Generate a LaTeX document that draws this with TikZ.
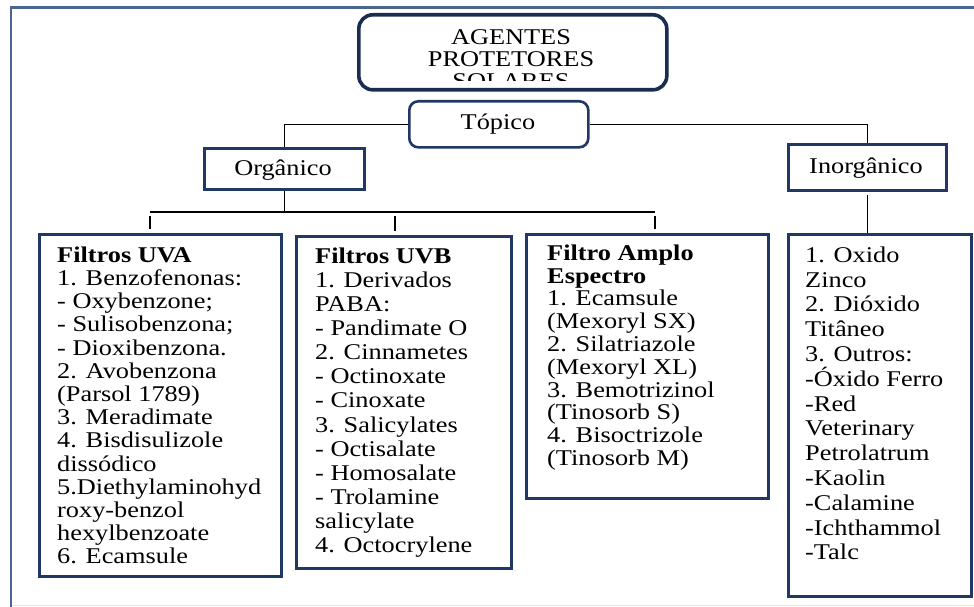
\documentclass[tikz,border=0pt]{standalone}
\usepackage{fontspec}
\setmainfont{Liberation Serif}[FakeStretch=1.17]
\definecolor{navy}{HTML}{1F3864}
\definecolor{framec}{HTML}{4A6590}
\definecolor{framelight}{HTML}{DCE6F2}
\begin{document}
\begin{tikzpicture}[x=1pt,y=-1pt,
  box/.style={draw=navy, line width=2.6pt, inner sep=0pt, anchor=north west},
  rbox/.style={box, rounded corners=9pt},
  conn/.style={draw=black, line width=1.2pt},
  txt/.style={anchor=north west, inner sep=0pt, align=left},
  lbl/.style={inner sep=0pt, anchor=base, font=\fontsize{22.5}{22}\selectfont}]
\useasboundingbox[fill=white] (0,0) rectangle (974,607);
% frame of the screenshot
\draw[framec, line width=2.6pt] (11,607) -- (11,7.5) -- (974,7.5);
\draw[framelight, line width=1.5pt] (12,605.5) -- (974,605.5);

% title
\fill[black!35, rounded corners=14pt] (360,16) rectangle (668,91);
\node[draw=navy!80!black, fill=white, line width=3.6pt, rounded corners=14pt, inner sep=0pt,
      minimum width=308pt, minimum height=75pt, anchor=north west] (title) at (357,13) {};
\begin{scope}
  \clip (360,16) rectangle (662,81);
  \node[lbl, align=center, anchor=base] (titletext) at (511,89) {AGENTES\\PROTETORES\\SOLARES};
\end{scope}

% second level
\node[rbox, minimum width=179pt, minimum height=46pt] (topico) at (408,100) {};
\node[lbl] (topicot) at (498,130) {Tópico};
\node[box, minimum width=160pt, minimum height=41pt] (organico) at (203,147) {};
\node[lbl] (organicot) at (283,175) {Orgânico};
\node[box, minimum width=158pt, minimum height=46pt] (inorganico) at (787,143) {};
\node[lbl] (inorganicot) at (866,173) {Inorgânico};

% lists
\node[box, minimum width=242pt, minimum height=342pt] (uva) at (38,233) {};
\node[txt, font=\fontsize{22.5}{23.2}\selectfont] (uvat) at (57,246.5) {\textbf{Filtros UVA}\\1. Benzofenonas:\\- Oxybenzone;\\- Sulisobenzona;\\- Dioxibenzona.\\2. Avobenzona\\(Parsol 1789)\\3. Meradimate\\4. Bisdisulizole\\dissódico\\5.Diethylaminohyd\\roxy-benzol\\hexylbenzoate\\6. Ecamsule};

\node[box, minimum width=215pt, minimum height=332pt] (uvb) at (295,235) {};
\node[txt, font=\fontsize{22.5}{24.1}\selectfont] (uvbt) at (315,247.5) {\textbf{Filtros UVB}\\1. Derivados\\PABA:\\- Pandimate O\\2. Cinnametes\\- Octinoxate\\- Cinoxate\\3. Salicylates\\- Octisalate\\- Homosalate\\- Trolamine\\salicylate\\4. Octocrylene};

\node[box, minimum width=242pt, minimum height=264pt] (amplo) at (525,233) {};
\node[txt, font=\fontsize{22.5}{22.8}\selectfont] (amplot) at (547,244.5) {\textbf{Filtro Amplo}\\\textbf{Espectro}\\1. Ecamsule\\(Mexoryl SX)\\2. Silatriazole\\(Mexoryl XL)\\3. Bemotrizinol\\(Tinosorb S)\\4. Bisoctrizole\\(Tinosorb M)};

\node[box, minimum width=183pt, minimum height=362pt] (inorg) at (787,233) {};
\node[txt, font=\fontsize{22.5}{24.8}\selectfont] (inorgt) at (805,246.5) {1. Oxido\\Zinco\\2. Dióxido\\Titâneo\\3. Outros:\\-Óxido Ferro\\-Red\\Veterinary\\Petrolatrum\\-Kaolin\\-Calamine\\-Ichthammol\\-Talc};

% connectors
\draw[conn] (topico.west) -| (organico.north);
\draw[conn] (topico.east) -| (inorganico.north);
\coordinate (barL) at (150,212);
\coordinate (barM) at (395,212);
\coordinate (barR) at (655,212);
\draw[conn] (organico.south) -- (organico.south |- barL);
\draw[conn] (barL) -- (barR);
\draw[conn, shorten <=4pt, shorten >=4pt] (barL) -- (barL |- uva.north);
\draw[conn, shorten <=4pt, shorten >=4pt] (barM) -- (barM |- uvb.north);
\draw[conn, shorten <=4pt, shorten >=4pt] (barR) -- (barR |- amplo.north);
\draw[conn, shorten <=3pt] (inorganico.south) -- (inorganico.south |- inorg.north);
\end{tikzpicture}
\end{document}
